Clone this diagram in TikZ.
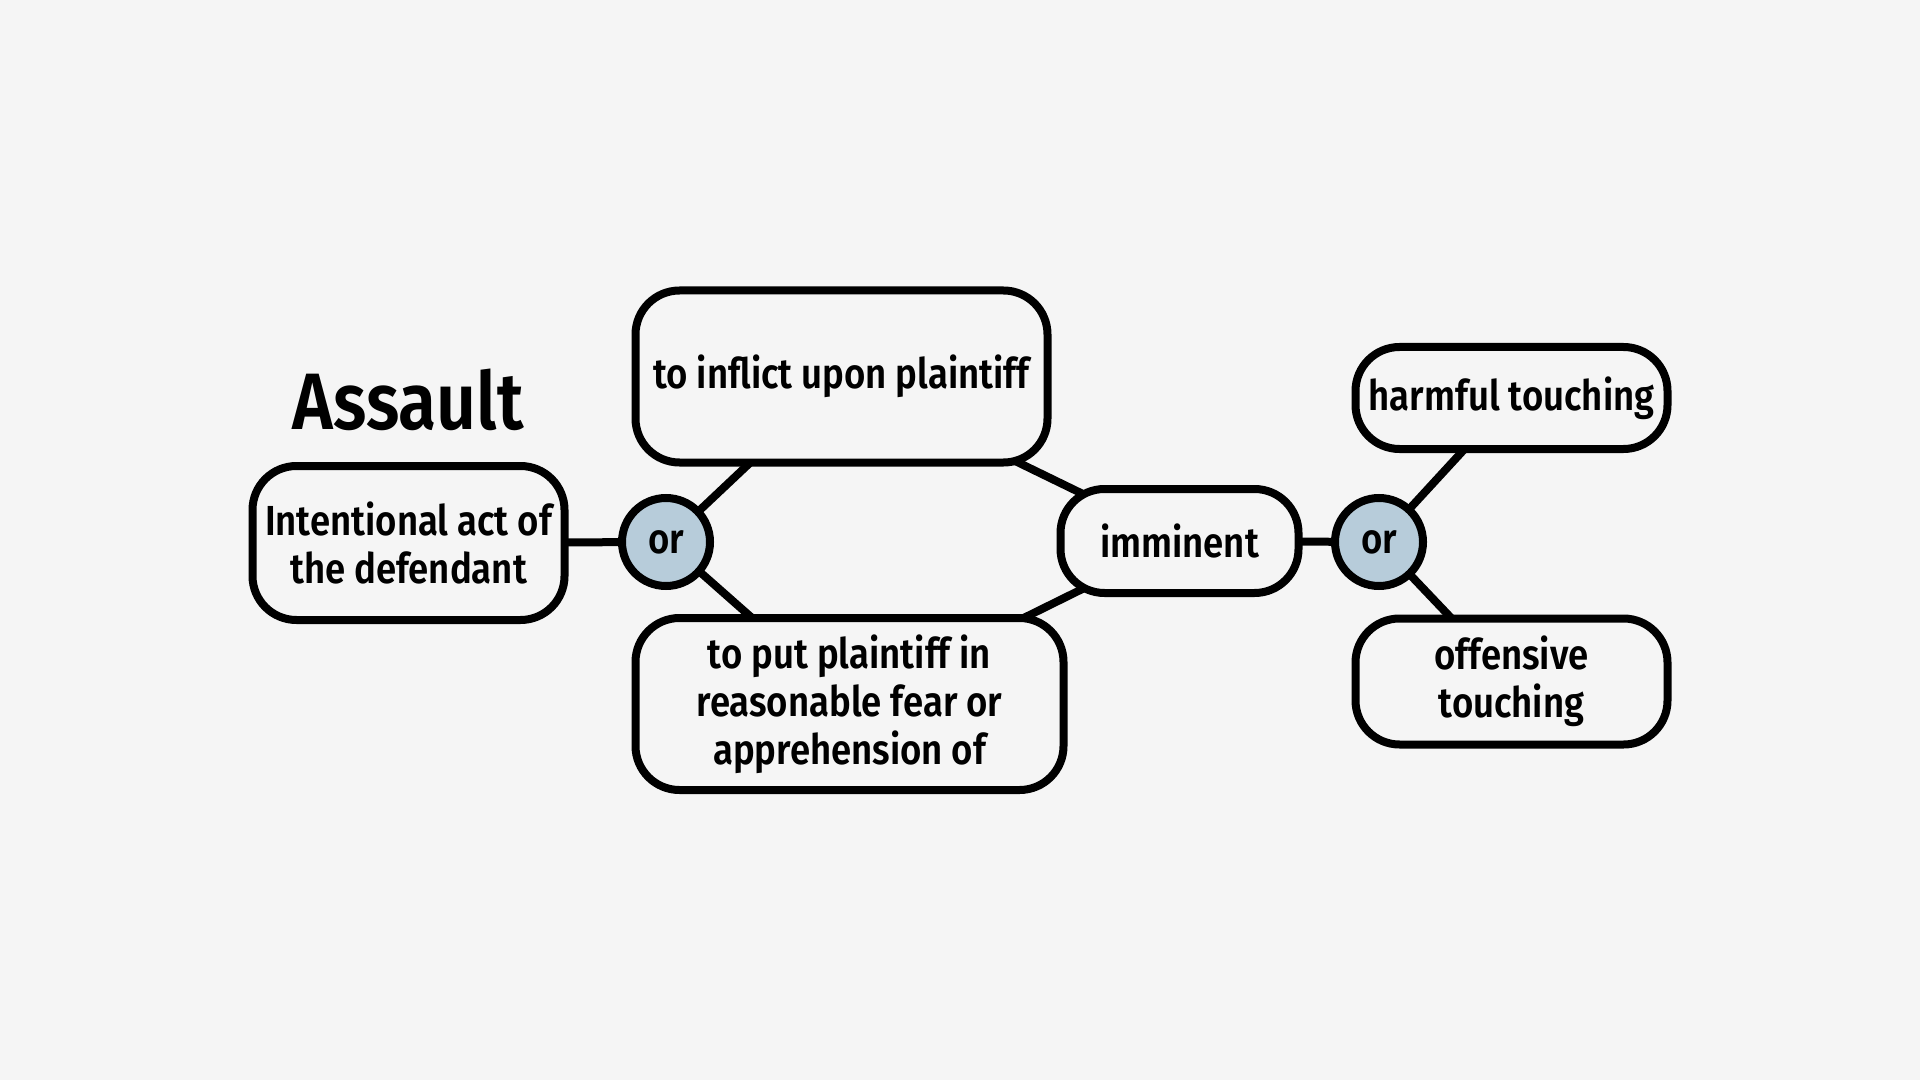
\documentclass[tikz,border=0pt]{standalone}
\usepackage{fontspec}
\setmainfont{Fira Sans}[BoldFont={Fira Sans SemiBold}, FakeStretch=0.87]
\usetikzlibrary{backgrounds}
\definecolor{bgc}{RGB}{245,245,245}
\definecolor{orc}{RGB}{183,204,218}
\begin{document}
\begin{tikzpicture}[x=0.5pt,y=-0.5pt,
  box/.style={draw=black,line width=4pt,rounded corners=22pt,fill=bgc,align=center,
    font=\bfseries\fontsize{21}{24}\selectfont,inner sep=0pt},
  ornode/.style={draw=black,line width=4pt,circle,fill=orc,minimum size=44pt,inner sep=0pt,
    font=\bfseries\fontsize{21}{24}\selectfont},
  link/.style={line width=4pt,black}]
\useasboundingbox (0,0) rectangle (1920,1080);
\node[box,minimum width=156pt,minimum height=77pt] (intent) at (408.5,543) {Intentional act of\\the defendant};
\node[box,minimum width=206pt,minimum height=86pt] (inflict) at (841.5,376.5) {to inflict upon plaintiff};
\node[box,minimum width=214pt,minimum height=86pt] (put) at (849.5,704) {to put plaintiff in\\reasonable fear or\\apprehension of};
\node[box,minimum width=119pt,minimum height=52pt] (imm) at (1179.5,541) {imminent};
\node[box,minimum width=156pt,minimum height=51pt] (harm) at (1511.5,398) {harmful touching};
\node[box,minimum width=156pt,minimum height=63pt] (off) at (1511.5,681.5) {offensive\\touching};
\node[ornode] (or1) at (666,542) {or};
\node[ornode] (or2) at (1379,542) {or};
\node[font=\bfseries\fontsize{40}{46}\selectfont,inner sep=0pt] (title) at (408,400) {Assault};
\begin{scope}[on background layer]
\fill[bgc] (0,0) rectangle (1920,1080);
\draw[link] (intent.center) -- (or1.center);
\draw[link] (or1.center) -- (inflict.center);
\draw[link] (or1.center) -- (put.center);
\draw[link] (inflict.center) -- (imm.center);
\draw[link] (put.center) -- (imm.center);
\draw[link] (imm.center) -- (or2.center);
\draw[link] (or2.center) -- (harm.center);
\draw[link] (or2.center) -- (off.center);
\end{scope}
\end{tikzpicture}
\end{document}
